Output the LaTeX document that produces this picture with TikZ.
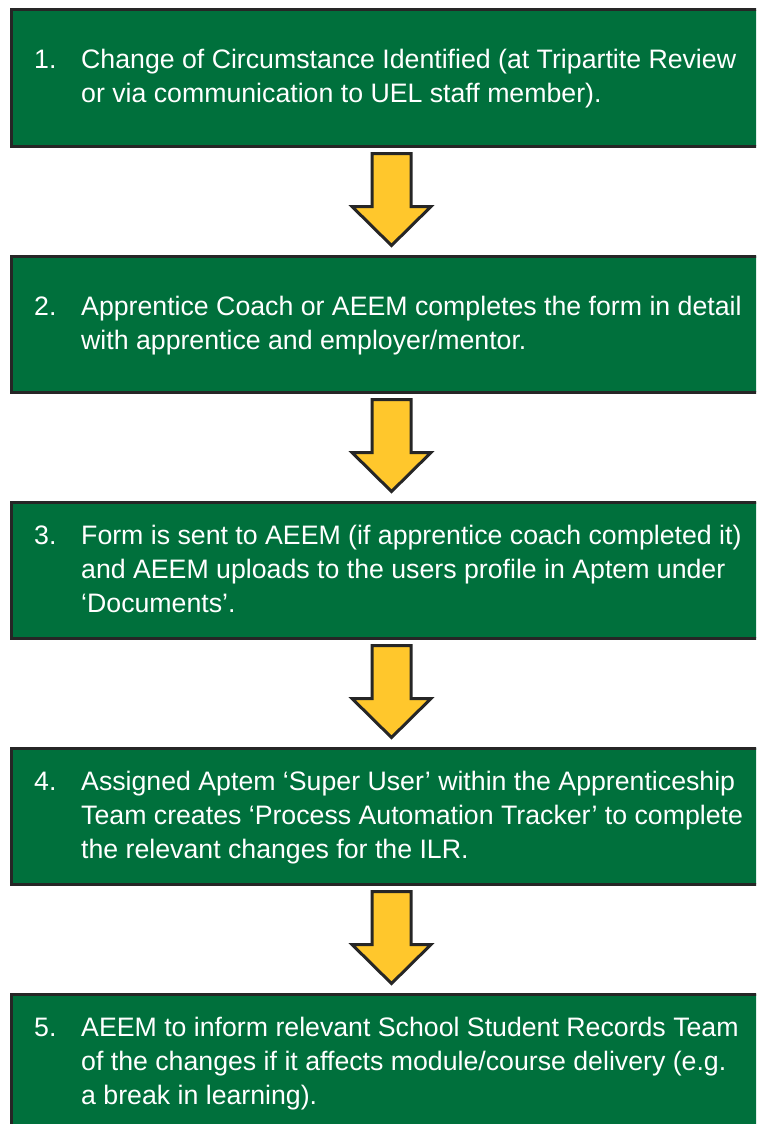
\documentclass[tikz,border=0pt]{standalone}
\usepackage{fontspec}
\setmainfont{Liberation Sans}
\usetikzlibrary{positioning}

\definecolor{uelgreen}{HTML}{00703C}
\definecolor{arrowyellow}{HTML}{FFC72C}
\definecolor{edgegrey}{HTML}{262626}

\tikzset{
  stepbox/.style={draw=edgegrey, line width=3pt, fill=uelgreen, minimum width=760pt, minimum height=136pt, inner sep=0pt},
  steptext/.style={text=white, anchor=base west, inner sep=0pt, font=\fontsize{26.7}{34}\selectfont},
  downarrow/.style={draw=edgegrey, line width=3pt, fill=arrowyellow, line join=miter}
}

\begin{document}
\begin{tikzpicture}[x=1pt, y=-1pt]
    \useasboundingbox (0,0) rectangle (756,1124);
    \clip (0,0) rectangle (756,1124);

    \node [stepbox] (box1) at (391.5, 78) {};
    \node [stepbox] (box2) at (391.5, 324) {};
    \node [stepbox] (box3) at (391.5, 570) {};
    \node [stepbox] (box4) at (391.5, 816) {};
    \node [stepbox] (box5) at (391.5, 1062) {};

    \node [steptext] (text1) at (34, 69) {\begin{tabular}[t]{@{}p{47pt}@{}l@{}}
        1. & Change of Circumstance Identified (at Tripartite Review\\
           & or via communication to UEL staff member).
    \end{tabular}};
    \node [steptext] (text2) at (34, 315) {\begin{tabular}[t]{@{}p{47pt}@{}l@{}}
        2. & Apprentice Coach or AEEM completes the form in detail\\
           & with apprentice and employer/mentor.
    \end{tabular}};
    \node [steptext] (text3) at (34, 544) {\begin{tabular}[t]{@{}p{47pt}@{}l@{}}
        3. & Form is sent to AEEM (if apprentice coach completed it)\\
           & and AEEM uploads to the users profile in Aptem under\\
           & ‘Documents’.
    \end{tabular}};
    \node [steptext] (text4) at (34, 790) {\begin{tabular}[t]{@{}p{47pt}@{}l@{}}
        4. & Assigned Aptem ‘Super User’ within the Apprenticeship\\
           & Team creates ‘Process Automation Tracker’ to complete\\
           & the relevant changes for the ILR.
    \end{tabular}};
    \node [steptext] (text5) at (34, 1036) {\begin{tabular}[t]{@{}p{47pt}@{}l@{}}
        5. & AEEM to inform relevant School Student Records Team\\
           & of the changes if it affects module/course delivery (e.g.\\
           & a break in learning).
    \end{tabular}};

    \coordinate (a1) at ([yshift=-6pt]box1.south);
    \coordinate (a2) at ([yshift=-6pt]box2.south);
    \coordinate (a3) at ([yshift=-6pt]box3.south);
    \coordinate (a4) at ([yshift=-6pt]box4.south);

    \draw [downarrow] (a1) ++(-19.5,0) -- ++(39,0) -- ++(0,53) -- ++(20,0) -- ++(-39.5,39) -- ++(-39.5,-39) -- ++(20,0) -- cycle;
    \draw [downarrow] (a2) ++(-19.5,0) -- ++(39,0) -- ++(0,53) -- ++(20,0) -- ++(-39.5,39) -- ++(-39.5,-39) -- ++(20,0) -- cycle;
    \draw [downarrow] (a3) ++(-19.5,0) -- ++(39,0) -- ++(0,53) -- ++(20,0) -- ++(-39.5,39) -- ++(-39.5,-39) -- ++(20,0) -- cycle;
    \draw [downarrow] (a4) ++(-19.5,0) -- ++(39,0) -- ++(0,53) -- ++(20,0) -- ++(-39.5,39) -- ++(-39.5,-39) -- ++(20,0) -- cycle;
\end{tikzpicture}
\end{document}
